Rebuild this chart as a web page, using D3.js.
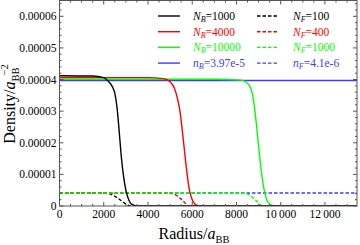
<!DOCTYPE html>
<html>
<head>
<meta charset="utf-8">
<script src="https://cdn.jsdelivr.net/npm/d3@7"></script>
<style>
  body { margin: 0; background: #fff; }
  svg { display: block; font-family: "Liberation Serif", "DejaVu Serif", serif; }
</style>
</head>
<body>
<div class="graf"></div>
<script>
//------------------------------------------------
//  data, [radius, density]
//------------------------------------------------
const bosons1000 = [[0,4.12e-5],[1500,4.11e-5],[2000,4.06e-5],[2200,3.95e-5],[2400,3.76e-5],[2500,3.57e-5],[2600,3.12e-5],[2700,2.35e-5],[2800,1.52e-5],[2900,0.92e-5],[3000,0.5e-5],[3100,0.25e-5],[3200,0.1e-5],[3350,0.03e-5],[3600,0],[13500,0]];
const bosons4000 = [[0,4.06e-5],[4000,4.06e-5],[4700,4.03e-5],[5000,3.93e-5],[5200,3.72e-5],[5350,3.35e-5],[5450,2.98e-5],[5550,2.4e-5],[5650,1.75e-5],[5750,1.12e-5],[5850,0.6e-5],[5950,0.3e-5],[6050,0.12e-5],[6200,0.03e-5],[6500,0],[13500,0]];
const bosons10000 = [[0,4.01e-5],[7000,4.01e-5],[8200,3.98e-5],[8500,3.88e-5],[8700,3.6e-5],[8800,3.2e-5],[8900,2.6e-5],[9000,1.9e-5],[9100,1.25e-5],[9200,0.72e-5],[9300,0.36e-5],[9400,0.15e-5],[9550,0.04e-5],[9800,0],[13500,0]];
const bosonsBulk = [[0,3.97e-5],[13500,3.97e-5]];

const fermions100 = [[0,0.41e-5],[2000,0.41e-5],[2250,0.39e-5],[2450,0.33e-5],[2650,0.24e-5],[2850,0.14e-5],[3000,0.06e-5],[3150,0.01e-5],[3300,0],[13500,0]];
const fermions400 = [[0,0.41e-5],[4800,0.41e-5],[5100,0.39e-5],[5300,0.33e-5],[5450,0.25e-5],[5600,0.15e-5],[5700,0.08e-5],[5800,0.02e-5],[5950,0],[13500,0]];
const fermions1000 = [[0,0.41e-5],[8200,0.41e-5],[8450,0.39e-5],[8650,0.32e-5],[8800,0.23e-5],[8950,0.13e-5],[9050,0.06e-5],[9150,0.01e-5],[9300,0],[13500,0]];
const fermionsBulk = [[0,0.41e-5],[13500,0.41e-5]];

const radiusTicks = [0,2000,4000,6000,8000,10000,12000];
const radiusLabels = ["0","2000","4000","6000","8000","10\u2009000","12\u2009000"];
const densityTicks = [0,1e-5,2e-5,3e-5,4e-5,5e-5,6e-5];
const densityLabels = ["0","0.00001","0.00002","0.00003","0.00004","0.00005","0.00006"];

const legendLeft = [["N","B","=1000"],["N","B","=4000"],["N","B","=10000"],["n","B","=3.97e-5"]];
const legendRight = [["N","F","=100"],["N","F","=400"],["N","F","=1000"],["n","F","=4.1e-6"]];
const colors = ["#000000","#ff0000","#00ff00","#3c3cff"];

//------------------------------------------------
//                    MAIN
//------------------------------------------------
const width = 360, height = 245;
const mLeft = 59.5, mRight = 357, mTop = 0.5, mBottom = 206;

let svg = d3.select('.graf')
    .append('svg')
    .attr('width', width)
    .attr('height', height);

let x = d3.scaleLinear().domain([0, 13450]).range([mLeft, mRight]);
let y = d3.scaleLinear().domain([0, 6.5e-5]).range([mBottom, mTop]);

svg.append('clipPath').attr('id', 'plotclip')
    .append('rect')
    .attr('x', mLeft).attr('y', mTop)
    .attr('width', mRight - mLeft).attr('height', mBottom - mTop);

let line = d3.line()
    .x(d => x(d[0]))
    .y(d => y(d[1]))
    .curve(d3.curveMonotoneX);

let linesG = svg.append('g').attr('clip-path', 'url(#plotclip)');

// dashed first (under the solid ones), blue bulk lines in between
const dashed = [fermionsBulk, fermions100, fermions400, fermions1000];
const dashedColors = [colors[3], colors[0], colors[1], colors[2]];
dashed.forEach((d, i) => {
    linesG.append('path')
        .attr('d', line(d))
        .attr('fill', 'none')
        .attr('stroke', dashedColors[i])
        .attr('stroke-width', 1.4)
        .attr('stroke-dasharray', '3.5,2');
});

const solid = [bosonsBulk, bosons10000, bosons4000, bosons1000];
const solidColors = [colors[3], colors[2], colors[1], colors[0]];
solid.forEach((d, i) => {
    linesG.append('path')
        .attr('d', line(d))
        .attr('fill', 'none')
        .attr('stroke', solidColors[i])
        .attr('stroke-width', 1.4);
});

// frame + ticks
let frameG = svg.append('g');
frameG.append('rect')
    .attr('x', mLeft).attr('y', mTop)
    .attr('width', mRight - mLeft).attr('height', mBottom - mTop)
    .attr('fill', 'none')
    .attr('stroke', '#555')
    .attr('stroke-width', 1);

const xMinor = d3.range(0, 13500, 500);
const yMinor = d3.range(0, 6.5e-5, 0.2e-5);

xMinor.forEach(v => {
    let major = v % 2000 === 0;
    let len = major ? 4 : 2;
    frameG.append('line')
        .attr('x1', x(v)).attr('x2', x(v))
        .attr('y1', mBottom).attr('y2', mBottom - len)
        .attr('stroke', '#555');
    frameG.append('line')
        .attr('x1', x(v)).attr('x2', x(v))
        .attr('y1', mTop).attr('y2', mTop + len)
        .attr('stroke', '#555');
});
yMinor.forEach((v, i) => {
    let major = i % 5 === 0;
    let len = major ? 4 : 2;
    frameG.append('line')
        .attr('x1', mLeft).attr('x2', mLeft + len)
        .attr('y1', y(v)).attr('y2', y(v))
        .attr('stroke', '#555');
    frameG.append('line')
        .attr('x1', mRight).attr('x2', mRight - len)
        .attr('y1', y(v)).attr('y2', y(v))
        .attr('stroke', '#555');
});

// tick labels
svg.append('g').selectAll('text')
    .data(radiusTicks)
    .join('text')
    .attr('x', d => x(d))
    .attr('y', 217.5)
    .attr('text-anchor', 'middle')
    .attr('font-size', 11.5)
    .text((d, i) => radiusLabels[i]);

svg.append('g').selectAll('text')
    .data(densityTicks)
    .join('text')
    .attr('x', 56.5)
    .attr('y', d => y(d) + 4)
    .attr('text-anchor', 'end')
    .attr('font-size', 11.5)
    .text((d, i) => densityLabels[i]);

// axis titles
let xt = svg.append('text')
    .attr('x', 194).attr('y', 239)
    .attr('text-anchor', 'middle')
    .attr('font-size', 16);
xt.append('tspan').text('Radius/');
xt.append('tspan').attr('font-style', 'italic').text('a');
xt.append('tspan').attr('font-size', 10.5).attr('dy', 3.5).text('BB');

let yt = svg.append('text')
    .attr('transform', 'translate(15,104) rotate(-90)')
    .attr('text-anchor', 'middle')
    .attr('font-size', 16);
yt.append('tspan').text('Density/');
yt.append('tspan').attr('font-style', 'italic').text('a');
yt.append('tspan').attr('font-size', 10.5).attr('dy', 3.5).text('BB');
yt.append('tspan').attr('font-size', 10.5).attr('dy', -10.5).attr('dx', -8).text('\u22122');

// legend
const rowY = [16, 31.7, 47.4, 63.1];
let legG = svg.append('g');
function legendEntry(cx, textX, ry, color, dashedLine, parts){
    let ln = legG.append('line')
        .attr('x1', cx).attr('x2', cx + 22)
        .attr('y1', ry).attr('y2', ry)
        .attr('stroke', color)
        .attr('stroke-width', 1.4);
    if (dashedLine) ln.attr('stroke-dasharray', '3.5,2');
    let t = legG.append('text')
        .attr('x', textX).attr('y', ry + 4)
        .attr('font-size', 11.5)
        .attr('fill', color);
    t.append('tspan').attr('font-style', 'italic').text(parts[0]);
    t.append('tspan').attr('font-style', 'italic').attr('font-size', 8).attr('dy', 2).text(parts[1]);
    t.append('tspan').attr('dy', -2).text(parts[2]);
}
legendLeft.forEach((p, i) => legendEntry(158, 193, rowY[i], colors[i], false, p));
legendRight.forEach((p, i) => legendEntry(257, 293, rowY[i], colors[i], true, p));
</script>
</body>
</html>
